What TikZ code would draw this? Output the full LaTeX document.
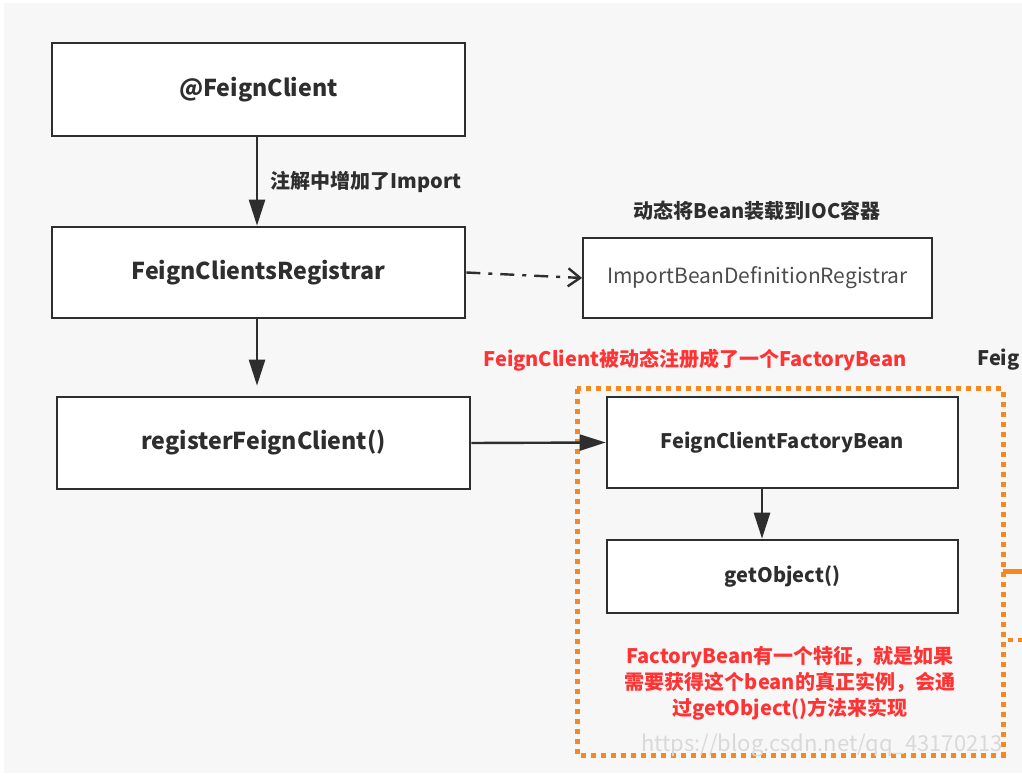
\documentclass[tikz,border=0pt]{standalone}
\usepackage{fontspec}
\setmainfont{Noto Sans CJK SC}
\usetikzlibrary{arrows.meta}
\definecolor{bg}{HTML}{F7F7F7}
\definecolor{edge}{HTML}{2E2E2E}
\definecolor{txt}{HTML}{2E2E2E}
\definecolor{redtxt}{HTML}{FF3333}
\definecolor{orng}{HTML}{F5891F}
\tikzset{
  box/.style={draw=edge, line width=1.3pt, fill=white, inner sep=0pt, font=\bfseries\fontsize{10}{12}\selectfont, text=txt},
  bigbox/.style={box, font=\bfseries\fontsize{11.6}{13}\selectfont},
  thinbox/.style={draw=edge, line width=0.9pt, fill=white, inner sep=0pt, font=\fontsize{10.5}{12}\selectfont, text=black!70},
  flow/.style={draw=edge, line width=1.2pt, -{Triangle[length=13pt,width=8pt]}},
  lbl/.style={font=\bfseries\fontsize{10}{12}\selectfont, text=txt, inner sep=0pt},
  redlbl/.style={font=\bfseries\fontsize{10}{13}\selectfont, text=redtxt, inner sep=0pt, align=center},
}
\begin{document}
\begin{tikzpicture}[x=0.5pt,y=-0.5pt]
\useasboundingbox (0,0) rectangle (1022,779);
\fill[white] (0,0) rectangle (1022,779);
\fill[bg] (4,3) rectangle (1022,773);
% boxes
\node[bigbox, minimum width=206.5pt, minimum height=46.5pt] (fc) at (258.5,89.5) {@FeignClient};
\node[bigbox, minimum width=206.5pt, minimum height=45.5pt] (reg) at (258.5,272.5) {FeignClientsRegistrar};
\node[bigbox, minimum width=206.5pt, minimum height=46pt] (rfc) at (263.5,443) {registerFeignClient()};
\node[thinbox, minimum width=174.5pt, minimum height=40pt] (ibdr) at (757.5,278) {ImportBeanDefinitionRegistrar};
\node[box, minimum width=175.5pt, minimum height=45.5pt] (fcfb) at (782.5,442.5) {FeignClientFactoryBean};
\node[box, minimum width=175.5pt, minimum height=36.5pt] (go) at (782.5,576.5) {getObject()};
% orange dotted container
\draw[orng, line width=2.5pt, dash pattern=on 2.5pt off 2.5pt] (577,389) rectangle (1003,755);
\coordinate (o1) at (1022,572);
\coordinate (o2) at (1003,572);
\draw[orng, line width=2.5pt] (o2) -- (o1);
\coordinate (o3) at (1022,640);
\coordinate (o4) at (1008,640);
\draw[orng, line width=2pt, dash pattern=on 2.5pt off 2.5pt] (o4) -- (o3);
% connectors
\draw[flow] (fc.south -| 257,0) -- (reg.north -| 257,0);
\draw[flow] (reg.south -| 257,0) -- ([yshift=5pt]rfc.north -| 257,0);
\draw[flow] (rfc.east) -- (fcfb.west);
\draw[flow] (fcfb.south -| 762,0) -- (go.north -| 762,0);
\draw[edge, line width=1.2pt, dash pattern=on 7pt off 4pt on 2pt off 4pt, -{Straight Barb[length=6pt,width=9pt,line width=1.2pt]}] (reg.east) -- (ibdr.west);
% labels
\node[lbl, anchor=west] (l1) at (270,182) {注解中增加了Import};
\node[lbl] (l2) at (757,211) {动态将Bean装载到IOC容器};
\node[redlbl] (l3) at (695,360) {FeignClient被动态注册成了一个FactoryBean};
\node[lbl, anchor=west] (l4) at (977,360) {Feig};
\node[redlbl] (l5) at (790,683) {FactoryBean有一个特征，就是如果\\需要获得这个bean的真正实例，会通\\过getObject()方法来实现};
\node[font=\fontsize{11}{12}\selectfont, text=black!15, inner sep=0pt] (wm) at (822,745) {https://blog.csdn.net/qq\_43170213};
\end{tikzpicture}
\end{document}
